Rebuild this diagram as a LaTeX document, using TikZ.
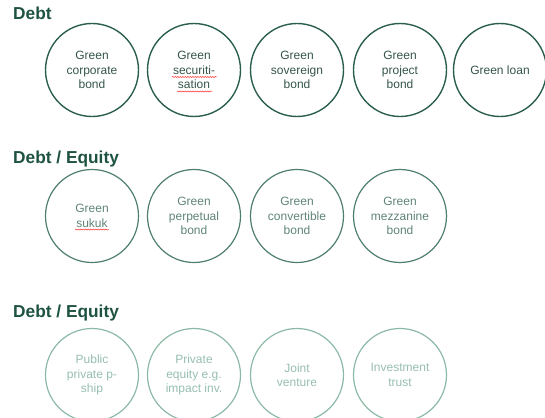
\documentclass[tikz,border=0pt]{standalone}
\usepackage{fontspec}
\setmainfont{Liberation Sans}
\usetikzlibrary{decorations.pathmorphing}
\definecolor{titulo}{HTML}{1E5242}
\definecolor{verdeA}{HTML}{2A5E4E}
\definecolor{textoA}{HTML}{35554B}
\definecolor{verdeB}{HTML}{4E7E6C}
\definecolor{textoB}{HTML}{5F8476}
\definecolor{verdeC}{HTML}{8CB9A6}
\definecolor{textoC}{HTML}{96BEAE}
\begin{document}
\begin{tikzpicture}
            [
                x=1pt, y=-1pt,
                cabecalho/.style={anchor=base west, inner sep=0pt, font=\bfseries\fontsize{17.3}{19}\selectfont, text=titulo},
                divida/.style={circle, draw=verdeA, line width=1.4pt, minimum size=93pt, inner sep=0pt, align=center, text=textoA, font=\fontsize{12}{14.5}\selectfont},
                misto/.style={divida, draw=verdeB, line width=1.2pt, text=textoB},
                capital/.style={divida, draw=verdeC, line width=1.2pt, text=textoC},
                ortografia/.style={draw=red!80, line width=0.5pt, decorate, decoration={snake, amplitude=0.6pt, segment length=2.5pt}},
            ]
            \useasboundingbox (0,0) rectangle (545,417);
            % dívida
            \node[cabecalho] (tituloA) at (13,20) {Debt};
            \node[divida] (corporate) at (92,70) {Green\\corporate\\bond};
            \node[divida] (securitisation) at (194,70) {Green\\securiti-\\sation};
            \node[divida] (sovereign) at (297,70) {Green\\sovereign\\bond};
            \node[divida] (project) at (400,70) {Green\\project\\bond};
            \node[divida] (loan) at (500,70) {Green loan};
            % dívida / capital
            \node[cabecalho] (tituloB) at (13,163) {Debt / Equity};
            \node[misto] (sukuk) at (92,216) {Green\\sukuk};
            \node[misto] (perpetual) at (194,216) {Green\\perpetual\\bond};
            \node[misto] (convertible) at (297,216) {Green\\convertible\\bond};
            \node[misto] (mezzanine) at (400,216) {Green\\mezzanine\\bond};
            % capital
            \node[cabecalho] (tituloC) at (13,317) {Debt / Equity};
            \node[capital] (ppp) at (92,375) {Public\\private p-\\ship};
            \node[capital] (private) at (194,375) {Private\\equity e.g.\\impact inv.};
            \node[capital] (joint) at (297,375) {Joint\\venture};
            \node[capital] (trust) at (400,375) {Investment\\trust};
            % marcas de ortografia
            \draw[ortografia] (172,77) -- (217,77);
            \draw[ortografia] (177,91.5) -- (212,91.5);
            \draw[ortografia] (75,229.5) -- (109,229.5);
\end{tikzpicture}
\end{document}
